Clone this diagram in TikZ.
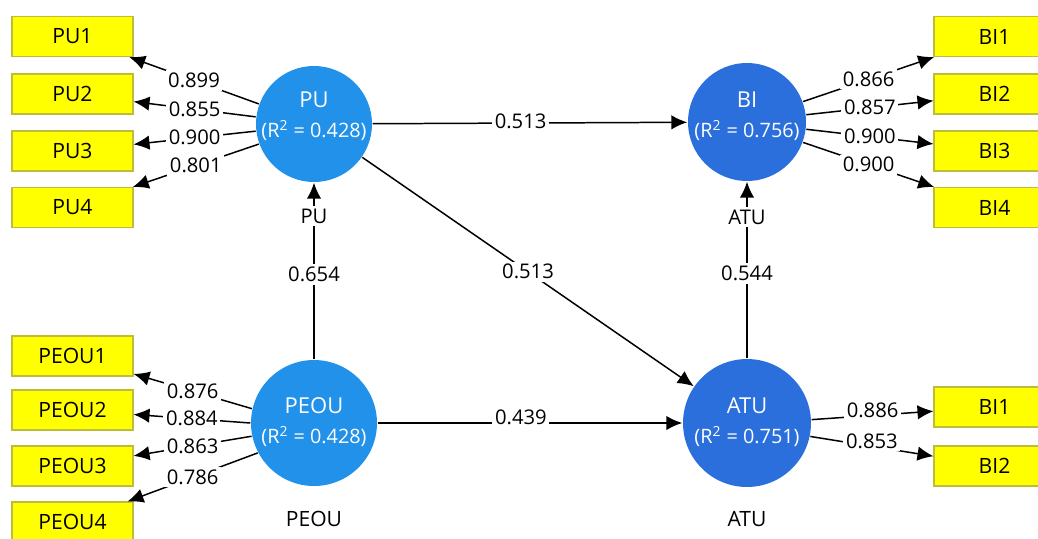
\documentclass[tikz,border=0pt]{standalone}
\usepackage{fontspec}
\setmainfont{Open Sans}
\usetikzlibrary{arrows.meta}
\definecolor{boxyellow}{HTML}{FFFF00}
\definecolor{boxline}{HTML}{BDBD3A}
\definecolor{lightlv}{HTML}{2291EA}
\definecolor{darklv}{HTML}{2A6FDB}
\tikzset{
	ind/.style={draw=boxline,fill=boxyellow,line width=0.6pt,minimum width=2.42cm,
		minimum height=0.8cm,inner sep=0pt,font=\fontsize{12}{14}\selectfont},
	lv/.style={circle,draw=none,inner sep=0pt},
	lvtext/.style={text=white,align=center,font=\fontsize{11.3}{17}\selectfont},
	lbl/.style={fill=white,inner sep=1.5pt,font=\fontsize{11.5}{13}\selectfont},
	lvname/.style={font=\fontsize{12}{14}\selectfont}
}
\begin{document}
\begin{tikzpicture}[x=0.02cm,y=-0.02cm,>={Latex[length=3.2mm,width=2.9mm]},line width=0.85pt]
\clip (0,0) rectangle (1038,538);
\fill[white] (0,0) rectangle (1038,538);
% latent variables
\node[lv,fill=lightlv,minimum size=2.32cm] (PU) at (314,124) {};
\node[lv,fill=darklv,minimum size=2.36cm] (BI) at (747,122) {};
\node[lv,fill=lightlv,minimum size=2.52cm] (PEOU) at (314,423) {};
\node[lv,fill=darklv,minimum size=2.56cm] (ATU) at (747,423) {};
\node[lvtext] (PUt) at (314,116) {\fontsize{12.5}{15}\selectfont PU\\(R\textsuperscript{2} = 0.428)};
\node[lvtext] (BIt) at (747,116) {\fontsize{12.5}{15}\selectfont BI\\(R\textsuperscript{2} = 0.756)};
\node[lvtext] (PEOUt) at (314,422) {\fontsize{12.5}{15}\selectfont PEOU\\(R\textsuperscript{2} = 0.428)};
\node[lvtext] (ATUt) at (747,422) {\fontsize{12.5}{15}\selectfont ATU\\(R\textsuperscript{2} = 0.751)};
\node[lvname] (PEOUc) at (314,519) {PEOU};
\node[lvname] (ATUc) at (747,519) {ATU};
% indicators
\foreach \i/\y in {1/36.5,2/94,3/151,4/207.5}{
	\node[ind] (PU\i) at (72.5,\y) {PU\i};
	\node[ind] (BI\i) at (994.5,\y) {BI\i};
}
\foreach \i/\y in {1/356,2/410,3/466,4/522}
	\node[ind] (PEOU\i) at (72.5,\y) {PEOU\i};
\foreach \i/\y in {1/407,2/466}
	\node[ind] (ATUbi\i) at (994.5,\y) {BI\i};
% loadings
\foreach \i/\a/\v in {1/160/0.899,2/173/0.855,3/187/0.900,4/200/0.801}
	\draw[->] (PU.\a) -- node[lbl]{\v} (PU\i);
\foreach \i/\a/\v in {1/20/0.866,2/7/0.857,3/-7/0.900,4/-20/0.900}
	\draw[->] (BI.\a) -- node[lbl]{\v} (BI\i);
\foreach \i/\a/\v in {1/167/0.876,2/180/0.884,3/192/0.863,4/208/0.786}
	\draw[->] (PEOU.\a) -- node[lbl]{\v} (PEOU\i);
\foreach \i/\a/\v in {1/3/0.886,2/-12/0.853}
	\draw[->] (ATU.\a) -- node[lbl,yshift=3pt]{\v} (ATUbi\i);
% paths
\draw[->] (PU) -- node[lbl,pos=0.47,yshift=1pt]{0.513} (BI);
\draw[->] (PU) -- node[lbl]{0.513} (ATU);
\draw[->] (PEOU) -- node[lbl,pos=0.47,yshift=3pt]{0.439} (ATU);
\draw[->] (PEOU) -- node[lbl,pos=0.48]{0.654} node[lbl,pos=0.81]{PU} (PU);
\draw[->] (ATU) -- node[lbl,pos=0.48]{0.544} node[lbl,pos=0.8]{ATU} (BI);
\end{tikzpicture}
\end{document}
